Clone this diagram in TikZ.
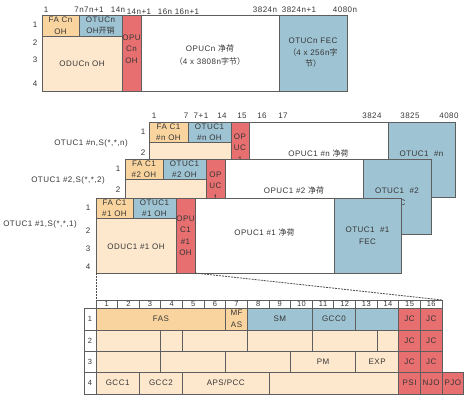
\documentclass[tikz,border=0pt]{standalone}
\usepackage{fontspec}
\setmainfont{Liberation Sans}[LetterSpace=6]
\newfontfamily\cjk{Noto Sans CJK SC}
\definecolor{bord}{HTML}{5E5E5E}
\definecolor{beige}{HTML}{FDE7CD}
\definecolor{fao}{HTML}{FAD49F}
\definecolor{blu}{HTML}{9EC3D3}
\definecolor{rd}{HTML}{E86F6F}
\definecolor{txt}{HTML}{363636}
\newcommand\cell[8]{%
  \node[cellbox,fill=#6,minimum width={(#4)-(#2)},minimum height={(#5)-(#3)}] (#1) at ({((#2)+(#4))/2},{((#3)+(#5))/2}) {};
  \node[celltext] (#1t) at ([yshift=#8]#1.center) {#7};}
\newcommand\tcell[7]{\cell{#1}{96+21.625*(#2-1)}{#4}{96+21.625*(#3)}{#5}{#6}{#7}{0}}
\begin{document}
\begin{tikzpicture}[x=1pt,y=-1pt,
  cellbox/.style={draw=bord,line width=0.8pt,inner sep=0pt,outer sep=0pt},
  celltext/.style={inner sep=0pt,align=center,text=txt,font=\fontsize{8}{11.5}\selectfont},
  lab/.style={inner sep=0pt,text=txt,font=\fontsize{8}{10}\selectfont},
  hdr/.style={draw=bord,line width=0.8pt,fill=white,inner sep=0pt,outer sep=0pt,text=txt,font=\fontsize{7.5}{8}\selectfont},
  dashline/.style={draw=bord!80!black,line width=0.8pt,dash pattern=on 2pt off 1pt}]
\useasboundingbox (0,0) rectangle (471,400);
% ---------- top OTUCn frame ----------
\cell{tFA}{42}{15}{79}{36}{fao}{FA Cn\\OH}{0}
\cell{tOTU}{79}{15}{122}{36}{blu}{OTUCn\\OH{\cjk 开销}}{0}
\cell{tODU}{42}{36}{122}{91}{beige}{ODUCn OH}{0}
\cell{tOPU}{122}{15}{141}{91}{rd}{OPU\\Cn\\OH}{4}
\cell{tPay}{141}{15}{279}{91}{white}{OPUCn {\cjk 净荷}\\[2pt]{\cjk （}4 x 3808n{\cjk 字节）}}{-2}
\cell{tFEC}{279}{15}{347}{91}{blu}{OTUCn FEC\\{\cjk （}4 x 256n{\cjk 字}\\{\cjk 节）}}{0}
\node[lab] (tc1) at (46,10) {1};
\node[lab,anchor=east] (tc7n) at (84,10) {7n};
\node[lab,anchor=west] (tc7n1) at (84,10) {7n+1};
\node[lab] (tc14n) at (118,10) {14n};
\node[lab] (tc14n1) at (139,12) {14n+1};
\node[lab] (tc16n) at (165,12) {16n};
\node[lab] (tc16n1) at (187,12) {16n+1};
\node[lab] (tc3824n) at (265,10) {3824n};
\node[lab] (tc3824n1) at (299,10) {3824n+1};
\node[lab] (tc4080n) at (345,10) {4080n};
\node[lab] (tr1) at (35,25) {1};
\node[lab] (tr2) at (35,43) {2};
\node[lab] (tr3) at (35,60) {3};
\node[lab] (tr4) at (35,84) {4};
% ---------- frame #n ----------
\cell{nFA}{149}{122}{188}{142}{fao}{FA C1\\\#n OH}{0}
\cell{nOTU}{188}{122}{231}{142}{blu}{OTUC1\\\#n OH}{0}
\cell{nODU}{149}{142}{231}{197}{beige}{}{0}
\cell{nOPU}{231}{122}{249}{197}{rd}{OP\\UC\\1}{11.5}
\cell{nPay}{249}{122}{388}{197}{white}{OPUC1 \#n {\cjk 净荷}}{6.5}
\cell{nFEC}{388}{122}{455}{197}{blu}{OTUC1\ \ \#n\\FEC}{0}
\node[lab] (nc1) at (154,116) {1};
\node[lab] (nc7) at (186,116) {7};
\node[lab] (nc71) at (201,116) {7+1};
\node[lab] (nc14) at (222,116) {14};
\node[lab] (nc15) at (242,116) {15};
\node[lab] (nc16) at (262,116) {16};
\node[lab] (nc17) at (283,116) {17};
\node[lab] (nc3824) at (372,116) {3824};
\node[lab] (nc3825) at (410,116) {3825};
\node[lab] (nc4080) at (449,116) {4080};
\node[lab] (nr1) at (143,132) {1};
\node[lab] (nr2) at (143,153) {2};
\node[lab] (nlab) at (91,143) {OTUC1 \#n,S(*,*,n)};
% ---------- frame #2 ----------
\cell{sFA}{125}{159}{163}{179}{fao}{FA C1\\\#2 OH}{0}
\cell{sOTU}{163}{159}{206}{179}{blu}{OTUC1\\\#2 OH}{0}
\cell{sODU}{125}{179}{206}{234}{beige}{}{0}
\cell{sOPU}{206}{159}{225}{234}{rd}{OP\\UC\\1}{10.5}
\cell{sPay}{225}{159}{363}{234}{white}{OPUC1 \#2 {\cjk 净荷}}{6.5}
\cell{sFEC}{363}{159}{431}{234}{blu}{OTUC1\ \ \#2\\FEC}{0}
\node[lab] (sr1) at (118,169) {1};
\node[lab] (sr2) at (118,190) {2};
\node[lab] (slab) at (68,180) {OTUC1 \#2,S(*,*,2)};
% ---------- frame #1 ----------
\cell{fFA}{96}{198}{133}{218}{fao}{FA C1\\\#1 OH}{0}
\cell{fOTU}{133}{198}{176}{218}{blu}{OTUC1\\\#1 OH}{0}
\cell{fODU}{96}{218}{176}{273}{beige}{ODUC1 \#1 OH}{-1.5}
\cell{fOPU}{176}{198}{195}{273}{rd}{OPU\\C1\\\#1\\OH}{0}
\cell{fPay}{195}{198}{334}{273}{white}{OPUC1 \#1 {\cjk 净荷}}{3.5}
\cell{fFEC}{334}{198}{401}{273}{blu}{OTUC1\ \ \#1\\FEC}{0}
\node[lab] (fr1) at (88,208) {1};
\node[lab] (fr2) at (88,231) {2};
\node[lab] (fr3) at (88,249) {3};
\node[lab] (fr4) at (88,267) {4};
\node[lab] (flab) at (40,224) {OTUC1 \#1,S(*,*,1)};
% ---------- overhead table ----------
\foreach \i in {1,...,16}
  \node[hdr,minimum width=21.625,minimum height=8] (h\i) at ({96+21.625*(\i-0.5)},304) {\i};
\foreach \r/\ya/\yb in {1/308/330,2/330/351,3/351/372,4/372/394}
  \node[hdr,font=\fontsize{7.5}{8}\selectfont,minimum width=12,minimum height={\yb-\ya}] (r\r) at (90,{(\ya+\yb)/2}) {\r};
% row 1
\tcell{FAS}{1}{6}{308}{330}{fao}{FAS}
\tcell{MFAS}{7}{7}{308}{330}{fao}{MF\\AS}
\tcell{SM}{8}{10}{308}{330}{blu}{SM}
\tcell{GCCz}{11}{12}{308}{330}{blu}{GCC0}
\tcell{ra}{13}{14}{308}{330}{blu}{}
\tcell{JCa}{15}{15}{308}{330}{rd}{JC}
\tcell{JCb}{16}{16}{308}{330}{rd}{JC}
% row 2
\tcell{rb}{1}{3}{330}{351}{beige}{}
\tcell{rc}{4}{4}{330}{351}{beige}{}
\tcell{rd}{5}{7}{330}{351}{beige}{}
\tcell{re}{8}{10}{330}{351}{beige}{}
\tcell{rf}{11}{13}{330}{351}{beige}{}
\tcell{rg}{14}{14}{330}{351}{beige}{}
\tcell{JCc}{15}{15}{330}{351}{rd}{JC}
\tcell{JCd}{16}{16}{330}{351}{rd}{JC}
% row 3
\tcell{rh}{1}{3}{351}{372}{beige}{}
\tcell{ri}{4}{6}{351}{372}{beige}{}
\tcell{rj}{7}{9}{351}{372}{beige}{}
\tcell{PM}{10}{12}{351}{372}{beige}{PM}
\tcell{EXP}{13}{14}{351}{372}{beige}{EXP}
\tcell{JCe}{15}{15}{351}{372}{rd}{JC}
\tcell{JCf}{16}{16}{351}{372}{rd}{JC}
% row 4
\tcell{GCCa}{1}{2}{372}{394}{beige}{GCC1}
\tcell{GCCb}{3}{4}{372}{394}{beige}{GCC2}
\tcell{APS}{5}{8}{372}{394}{beige}{APS/PCC}
\tcell{rk}{9}{14}{372}{394}{beige}{}
\tcell{PSI}{15}{15}{372}{394}{rd}{PSI}
\tcell{NJO}{16}{16}{372}{394}{rd}{NJO}
\tcell{PJO}{17}{17}{372}{394}{rd}{PJO}
% zoom connectors
\draw[dashline] (fODU.south west) -- (h1.north west);
\draw[dashline] (fOPU.south east) -- (h16.north east);
\end{tikzpicture}
\end{document}
